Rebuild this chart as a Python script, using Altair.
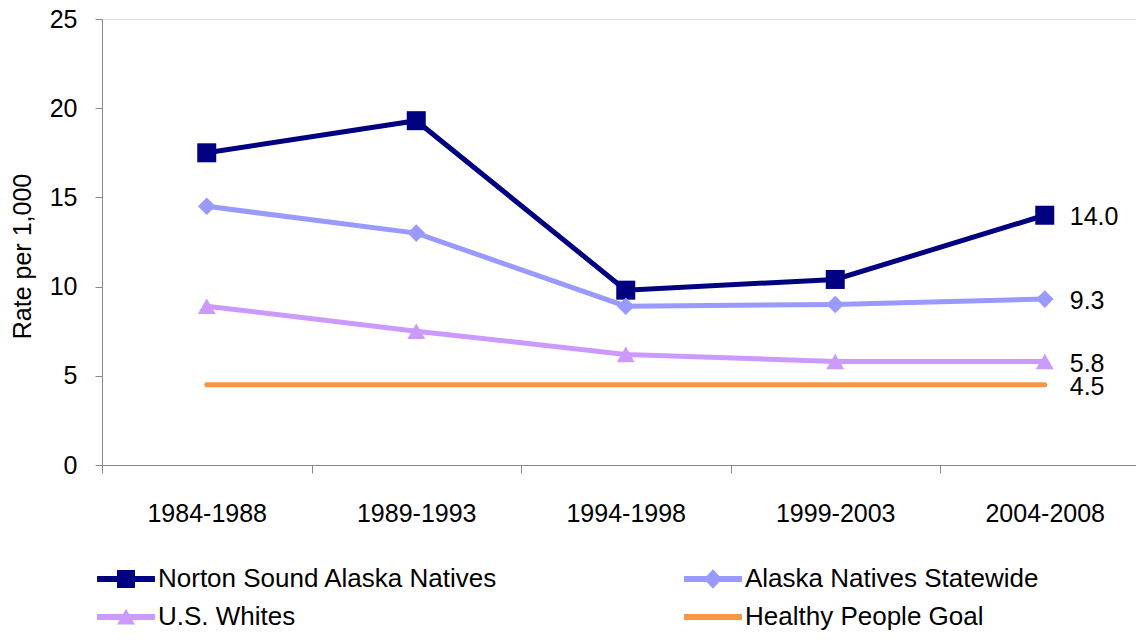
import json
import altair as alt
import pandas as pd

periods = ["1984-1988", "1989-1993", "1994-1998", "1999-2003", "2004-2008"]
series_names = ["Norton Sound Alaska Natives", "Alaska Natives Statewide",
                "U.S. Whites", "Healthy People Goal"]
norton = [17.5, 19.3, 9.8, 10.4, 14.0]
an_statewide = [14.5, 13.0, 8.9, 9.0, 9.3]
us_whites = [8.9, 7.5, 6.2, 5.8, 5.8]
goal = [4.5, 4.5, 4.5, 4.5, 4.5]
colors = ["#000080", "#9999FF", "#CC99FF", "#F79646"]
y_ticks = [0, 5, 10, 15, 20, 25]

rows = []
for name, vals in zip(series_names, [norton, an_statewide, us_whites, goal]):
    for i, (p, v) in enumerate(zip(periods, vals)):
        rows.append({"series": name, "period": p, "idx": i, "value": v,
                     "last": i == len(periods) - 1})
df = pd.DataFrame(rows)

FONT = "Liberation Sans"
W, H = 1034, 446
STEP = 209.5
xmax = -0.5 + W / STEP

# legend symbols: line segment plus the series marker
p_sq = "M-1.93,-0.2H1.93V0.2H-1.93Z M-0.6,-0.6H0.6V0.6H-0.6Z"
p_di = "M-1.93,-0.2H1.93V0.2H-1.93Z M-0.6,0L0,-0.65L0.6,0L0,0.65Z"
p_tr = "M-1.93,-0.2H1.93V0.2H-1.93Z M0,-0.55L0.6,0.5H-0.6Z"
p_ln = "M-1.93,-0.2H1.93V0.2H-1.93Z"
sym_paths = [p_sq, p_di, p_tr, p_ln]

# legend is filled column by column: order entries so rows read like the original
order = [0, 2, 1, 3]
leg_domain = [series_names[i] for i in order]
leg_colors = [colors[i] for i in order]
leg_paths = [sym_paths[i] for i in order]


def make_legend():
    return alt.Legend(orient="none", legendX=9, legendY=545, columns=2,
                      columnPadding=186, rowPadding=10, padding=0,
                      symbolSize=900, symbolStrokeWidth=0,
                      labelFontSize=26, labelFont=FONT, labelColor="black",
                      labelOffset=17, labelLimit=600, title=None)


color = alt.Color("series:N", scale=alt.Scale(domain=leg_domain, range=leg_colors),
                  legend=make_legend())

label_expr = json.dumps(periods) + "[round(datum.value + 0.5)]"
x = alt.X("idx:Q", scale=alt.Scale(domain=[-0.5, xmax], nice=False, zero=False),
          axis=alt.Axis(values=[-0.5, 0.5, 1.5, 2.5, 3.5], labelExpr=label_expr,
                        labelOffset=STEP / 2, title=None, grid=False,
                        tickSize=8, labelPadding=28, labelFontSize=25, labelFont=FONT,
                        labelColor="black", labelFlush=False, labelOverlap=False,
                        labelBaseline="top"))
y = alt.Y("value:Q", scale=alt.Scale(domain=[0, 25], nice=False, zero=True),
          axis=alt.Axis(values=y_ticks, title="Rate per 1,000", grid=False,
                        tickSize=7, labelPadding=18, labelFontSize=25, labelFont=FONT,
                        labelColor="black", titleFont=FONT, titleFontSize=25,
                        titleFontWeight="normal", titleColor="black",
                        titleX=-80, titleY=237, titleAngle=270, titleAlign="center",
                        titleBaseline="middle"))

base = alt.Chart(df)

lines = base.mark_line(strokeWidth=5, strokeCap="round").encode(
    x=x, y=y, color=color, detail="series:N")

shape_map = {"Norton Sound Alaska Natives": ("square", 361),
             "Alaska Natives Statewide": ("diamond", 310),
             "U.S. Whites": ("triangle-up", 324)}
point_layers = []
for name, (shp, sz) in shape_map.items():
    point_layers.append(
        base.transform_filter(alt.datum.series == name)
        .mark_point(shape=shp, size=sz, filled=True, opacity=1)
        .encode(x=x, y=y, color=color))

labels = base.transform_filter(alt.datum.last == True).mark_text(
    align="left", baseline="middle", dx=25, dy=2, fontSize=25, font=FONT,
    color="black").encode(x=x, y=y, text=alt.Text("value:Q", format=".1f"))

legend_layer = base.transform_filter(alt.datum.idx < 0).mark_point(
    filled=True, opacity=1).encode(
    x=x, y=y, color=color,
    shape=alt.Shape("series:N",
                    scale=alt.Scale(domain=leg_domain, range=leg_paths),
                    legend=make_legend()))

chart = alt.layer(lines, *point_layers, labels, legend_layer).properties(
    width=W, height=H,
    autosize=alt.AutoSizeParams(type="none"),
    padding={"left": 94, "top": 11, "right": 0, "bottom": 168},
).configure_view(stroke=None).configure_axis(
    domainColor="#868686", tickColor="#868686", domainWidth=1.5, tickWidth=1.5
).configure(font=FONT)

chart.save("out.html", embed_options={"renderer": "svg", "actions": False})
